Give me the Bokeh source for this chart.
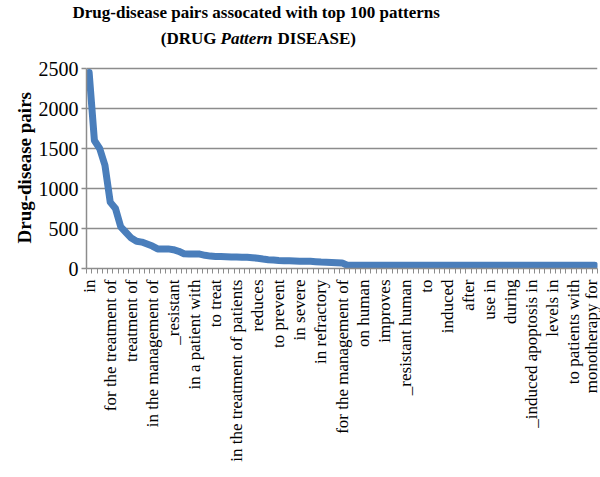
import math
import numpy as np
from bokeh.plotting import figure
from bokeh.models import Range1d, FixedTicker, Title
from bokeh.core.properties import value
from bokeh.embed import file_html
from bokeh.resources import INLINE

# Number of drug-disease pairs for each pattern (ranked)
pair_counts = [2450, 1600, 1500, 1290, 830, 750, 520, 450, 380, 340,
               330, 305, 280, 245, 245, 245, 235, 215, 185, 180,
               180, 180, 165, 155, 150, 150, 148, 145, 145, 142,
               140, 135, 128, 118, 110, 105, 100, 98, 96, 94,
               92, 92, 90, 85, 80, 78, 75, 72, 70, 40,
               40, 40, 40, 40, 40, 40, 40, 40, 40, 40,
               40, 40, 40, 40, 40, 40, 40, 40, 40, 40,
               40, 40, 40, 40, 40, 40, 40, 40, 40, 40,
               40, 40, 40, 40, 40, 40, 40, 40, 40, 40,
               40, 40, 40, 40, 40, 40, 40]

# Pattern names shown on the axis (every 4th pattern)
shown_labels = ["in", "for the treatment of", "treatment of", "in the management of",
                "_resistant", "in a patient with", "to treat", "in the treatment of patients",
                "reduces", "to prevent", "in severe", "in refractory",
                "for the management of", "on human", "improves", "_resistant human",
                "to", "induced", "after", "use in", "during",
                "_induced apoptosis in", "levels in", "to patients with", "monotherapy for"]
label_step = 4

y_ticks = [0, 500, 1000, 1500, 2000, 2500]
y_label = "Drug-disease pairs"

title_line1 = "Drug-disease pairs assocated with top 100 patterns"
title_line2 = ["(DRUG", "Pattern", "DISEASE)"]

n = len(pair_counts)
xs = list(range(n))
label_pos = [i * label_step for i in range(len(shown_labels))]

FONT = "Liberation Serif"
GREY = "#8c8c8c"

# ---- layout geometry (pixels) ----
W, H = 600, 477
LEFT, RIGHT, TOP, BOTTOM = 86, 3, 22, 209
PLOT_TOP_PX = 68                  # where the top tick (2500) sits
FRAME_BOTTOM_PX = H - BOTTOM      # 268
y_max = y_ticks[-1]
units_per_px = y_max / (FRAME_BOTTOM_PX - PLOT_TOP_PX)
y_top = (FRAME_BOTTOM_PX - TOP) * units_per_px
x_lo, x_hi = -0.5, n - 0.5
cat_px = (W - LEFT - RIGHT) / (x_hi - x_lo)


def px_to_x(px):
    return x_lo + (px - LEFT) / cat_px


def py_to_y(py):
    return (FRAME_BOTTOM_PX - py) * units_per_px


p = figure(width=W, height=H, output_backend="svg", toolbar_location=None,
           x_range=Range1d(x_lo, x_hi), y_range=Range1d(0, y_top),
           min_border_left=LEFT, min_border_right=RIGHT, min_border_top=TOP,
           min_border_bottom=BOTTOM)
p.outline_line_color = None
p.background_fill_color = "white"
p.border_fill_color = "white"

# first title line
p.title = Title(text=title_line1, align="left", offset=72 - LEFT, standoff=1,
                text_font=FONT, text_font_style="bold", text_font_size="17px",
                text_color="black", vertical_align="bottom")

# y axis title, centred on the 0..2500 span (not on the whole frame)
p.add_layout(Title(text=y_label, align="left", offset=FRAME_BOTTOM_PX - 243,
                   standoff=2, text_font=FONT, text_font_style="bold",
                   text_font_size="19px", text_color="black"), "left")

p.line(xs, pair_counts, line_color="#4A7EBB", line_width=7,
       line_join="round", line_cap="round")

# grid
p.xgrid.visible = False
p.ygrid.grid_line_color = GREY
p.ygrid.grid_line_width = 1.5

# y axis
p.yaxis.ticker = FixedTicker(ticks=y_ticks)
p.yaxis.bounds = (0, y_max)
p.yaxis.axis_line_color = GREY
p.yaxis.axis_line_width = 1.5
p.yaxis.major_tick_line_color = GREY
p.yaxis.major_tick_line_width = 1.5
p.yaxis.major_tick_out = 5
p.yaxis.major_tick_in = 0
p.yaxis.minor_tick_line_color = None
p.yaxis.major_label_text_font = FONT
p.yaxis.major_label_text_font_size = "20px"
p.yaxis.major_label_text_color = "black"
p.yaxis.major_label_standoff = 3

# x axis
boundaries = list(np.arange(x_lo, n, 1.0))
p.xaxis.ticker = FixedTicker(ticks=label_pos, minor_ticks=boundaries)
p.xaxis.major_label_overrides = {pos: lab for pos, lab in zip(label_pos, shown_labels)}
p.xaxis.major_label_orientation = math.pi / 2
p.xaxis.axis_line_color = GREY
p.xaxis.axis_line_width = 1.5
p.xaxis.major_tick_line_color = None
p.xaxis.major_tick_out = 0
p.xaxis.major_tick_in = 0
p.xaxis.minor_tick_line_color = GREY
p.xaxis.minor_tick_line_width = 1
p.xaxis.minor_tick_out = 5
p.xaxis.minor_tick_in = 0
p.xaxis.major_label_text_font = FONT
p.xaxis.major_label_text_font_size = "17px"
p.xaxis.major_label_text_color = "black"
p.xaxis.major_label_standoff = 6

# ---- second title line, with an italic word ----
tcommon = dict(text_font=value(FONT), text_font_size="17px", text_color="black",
               text_baseline="alphabetic")
p.text(x=[px_to_x(216)], y=[py_to_y(38)], text=[title_line2[0]], text_align="right",
       text_font_style="bold", **tcommon)
p.text(x=[px_to_x(220)], y=[py_to_y(38)], text=[title_line2[1]], text_align="left",
       text_font_style="bold italic", **tcommon)
p.text(x=[px_to_x(277)], y=[py_to_y(38)], text=[title_line2[2]], text_align="left",
       text_font_style="bold", **tcommon)

open("out.html", "w").write(file_html(p, INLINE))
